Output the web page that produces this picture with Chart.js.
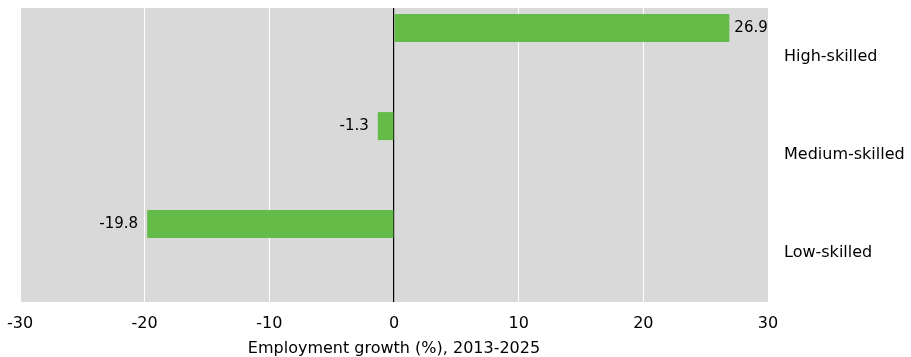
<!DOCTYPE html>
<html>
<head>
<meta charset="utf-8">
<script src="https://cdn.jsdelivr.net/npm/chart.js@4/dist/chart.umd.min.js"></script>
<style>
  html, body { margin: 0; padding: 0; background: #fff; }
  #wrap { width: 911px; height: 357px; }
</style>
</head>
<body>
<div id="wrap"><canvas id="myChart"></canvas></div>
<script>
// data
var skillLevels = ["High-skilled", "Medium-skilled", "Low-skilled"];
var growth = [26.9, -1.3, -19.8];
var spacer = [null, null, null];
var xTicks = [-30, -20, -10, 0, 10, 20, 30];

var fontFam = "'DejaVu Sans', sans-serif";

// grey plot background
var plotBg = {
    id: 'plotBg',
    beforeDraw: function(chart) {
        var a = chart.chartArea, c = chart.ctx;
        c.save();
        c.fillStyle = '#d9d9d9';
        c.fillRect(a.left, a.top, a.right - a.left + 1, a.bottom - a.top);
        c.restore();
    }
};

// value labels at bar ends
var valueLabels = {
    id: 'valueLabels',
    afterDatasetsDraw: function(chart) {
        var c = chart.ctx;
        var meta = chart.getDatasetMeta(0);
        c.save();
        c.font = '15px ' + fontFam;
        c.fillStyle = '#000';
        c.textBaseline = 'middle';
        meta.data.forEach(function(bar, i) {
            var v = growth[i];
            if (v >= 0) {
                c.textAlign = 'left';
                c.fillText(v.toFixed(1), bar.x + 5, bar.y);
            } else {
                c.textAlign = 'right';
                c.fillText(v.toFixed(1), bar.x - 9, bar.y);
            }
        });
        c.restore();
    }
};

var ctx = document.getElementById("myChart");
var myChart = new Chart(ctx, {
    type: 'bar',
    data: {
        labels: skillLevels,
        datasets: [
        {
            label: 'Employment growth',
            backgroundColor: '#64bb47',
            data: growth,
            barPercentage: 0.484,
            categoryPercentage: 1.18
        },
        {
            label: '',
            backgroundColor: 'rgba(0,0,0,0)',
            data: spacer,
            barPercentage: 0.484,
            categoryPercentage: 1.18
        }
        ]
    },
    plugins: [plotBg, valueLabels],
    options: {
        indexAxis: 'y',
        responsive: true,
        maintainAspectRatio: false,
        animation: false,
        layout: { padding: { left: 20, top: 8, right: 0, bottom: 0 } },
        plugins: {
            legend: { display: false },
            tooltip: { enabled: false }
        },
        scales: {
            x: {
                min: -30,
                max: 30,
                afterBuildTicks: function(axis) {
                    axis.ticks = xTicks.map(function(v) { return { value: v }; });
                },
                grid: {
                    color: function(c) { return c.tick && c.tick.value === 0 ? '#000' : '#ffffff'; },
                    lineWidth: function(c) { return c.tick && c.tick.value === 0 ? 1.2 : 1; },
                    drawTicks: false
                },
                border: { display: false },
                ticks: {
                    color: '#000',
                    font: { family: fontFam, size: 16 },
                    padding: 12,
                    maxRotation: 0
                },
                title: {
                    display: true,
                    text: 'Employment growth (%), 2013-2025',
                    color: '#000',
                    font: { family: fontFam, size: 16 },
                    padding: { top: 2, bottom: -1 }
                },
                afterFit: function(axis) {
                    axis.height = 55;
                    axis.paddingLeft = 0;
                    axis.paddingRight = 0;
                }
            },
            y: {
                position: 'right',
                grid: { display: false },
                border: { display: false },
                ticks: {
                    color: '#000',
                    font: { family: fontFam, size: 16 },
                    padding: 8
                },
                afterFit: function(axis) {
                    axis.width = 143;
                    axis.paddingTop = 0;
                    axis.paddingBottom = 0;
                }
            }
        }
    }
});
</script>
</body>
</html>
